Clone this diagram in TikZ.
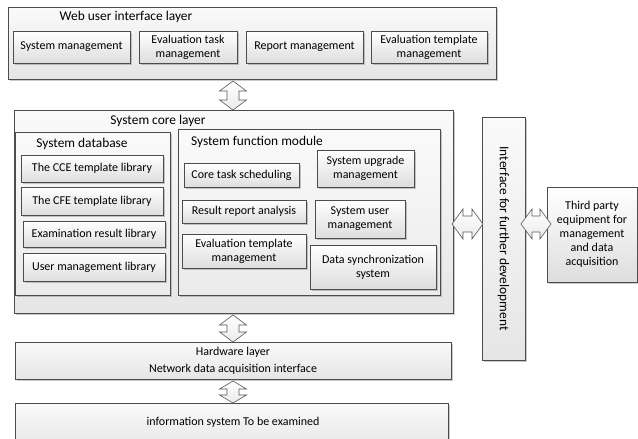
\documentclass[tikz,border=0pt]{standalone}
\usepackage{fontspec}
\setmainfont{Carlito}
\usetikzlibrary{shadows,calc}

\tikzset{
  edge/.style={draw=black!70, line width=0.6pt},
  shade/.style={drop shadow={shadow xshift=1.6pt, shadow yshift=-1.6pt, opacity=0.35, fill=black!60}},
  layer/.style={edge, shade, top color=black!2, bottom color=black!10, inner sep=0pt},
  group/.style={edge, shade, top color=black!2, bottom color=black!8, inner sep=0pt},
  item/.style={edge, shade, top color=white, bottom color=black!13, inner sep=0pt,
    align=center, font=\fontsize{12}{14}\selectfont},
  title/.style={inner sep=0pt, font=\fontsize{13.4}{15}\selectfont},
  blockarrow/.style={draw=black!65, line width=0.6pt, top color=white, bottom color=black!8},
}

% rectangle node given by its corners: \boxnode{style}{name}{x1}{y1}{x2}{y2}{text}
\newcommand{\boxnode}[7]{%
  \node[#1, minimum width={(#5-#3)*1pt}, minimum height={(#6-#4)*1pt}]
    (#2) at ({(#3+#5)/2},{(#4+#6)/2}) {#7};}

% vertical double block arrow between two points (top, bottom); #3 = head length
\newcommand{\vbiarrow}[3]{%
  \path[blockarrow] let \p1=(#1), \p2=(#2) in
    (\x1,\y1) -- (\x1+13.5pt,\y1-#3) -- (\x1+6pt,\y1-#3) -- (\x1+6pt,\y2+#3)
    -- (\x1+13.5pt,\y2+#3) -- (\x1,\y2) -- (\x1-13.5pt,\y2+#3) -- (\x1-6pt,\y2+#3)
    -- (\x1-6pt,\y1-#3) -- (\x1-13.5pt,\y1-#3) -- cycle;}
% horizontal double block arrow between two points (left, right)
\newcommand{\hbiarrow}[2]{%
  \path[blockarrow] let \p1=(#1), \p2=(#2) in
    (\x1,\y1) -- (\x1+11pt,\y1+15pt) -- (\x1+11pt,\y1+8pt) -- (\x2-11pt,\y1+8pt)
    -- (\x2-11pt,\y1+15pt) -- (\x2,\y1) -- (\x2-11pt,\y1-15pt) -- (\x2-11pt,\y1-8pt)
    -- (\x1+11pt,\y1-8pt) -- (\x1+11pt,\y1-15pt) -- cycle;}

\begin{document}
\begin{tikzpicture}[x=1pt, y=-1pt]
\useasboundingbox (0,0) rectangle (638,439);

% ---- web user interface layer
\boxnode{layer}{web}{8}{7}{496}{79}{}
\node[title] (webt) at (126,17) {Web user interface layer};
\boxnode{item}{wsys}{13}{31}{130}{63}{System management}
\boxnode{item}{wtask}{139}{31}{237}{63}{Evaluation task\\management}
\boxnode{item}{wrep}{246}{31}{363}{63}{Report management}
\boxnode{item}{wtpl}{371}{31}{487}{63}{Evaluation template\\management}

% ---- system core layer
\boxnode{layer}{core}{14}{110}{453}{313}{}
\node[title] (coret) at (158,121) {System core layer};

\boxnode{group}{db}{15}{132}{170}{295}{}
\node[title] (dbt) at (82,144) {System database};
\boxnode{item}{cce}{21}{155}{163}{182}{The CCE template library}
\boxnode{item}{cfe}{21}{187}{163}{215}{The CFE template library}
\boxnode{item}{exam}{23}{221}{165}{247}{Examination result library}
\boxnode{item}{ulib}{23}{253}{165}{281}{User management library}

\boxnode{group}{func}{178}{129}{440}{295}{}
\node[title] (funct) at (257,142) {System function module};
\boxnode{item}{sched}{184}{163}{299}{187}{Core task scheduling}
\boxnode{item}{upg}{317}{150}{414}{187}{System upgrade\\management}
\boxnode{item}{rra}{182}{200}{306}{223}{Result report analysis}
\boxnode{item}{sum}{315}{200}{405}{238}{System user\\management}
\boxnode{item}{etm}{182}{234}{306}{268}{Evaluation template\\management}
\boxnode{item}{dsync}{310}{245}{436}{289}{Data synchronization\\system}

% ---- interface and third party equipment
\boxnode{layer}{ifc}{482}{117}{525}{360}{}
\node[title, rotate=-90] (ifct) at (ifc.center) {Interface for further development};
\boxnode{item}{third}{547}{187}{637}{282}{Third party\\equipment for\\management\\and data\\acquisition}

% ---- hardware layer and system under examination
\boxnode{layer, align=center, font=\fontsize{12}{17}\selectfont}{hw}{15}{342}{451}{379}%
  {Hardware layer\\Network data acquisition interface}
\boxnode{layer}{info}{15}{403}{448}{450}{}
\node[inner sep=0pt, font=\fontsize{12}{14}\selectfont] (infot) at (233,422)
  {information system To be examined};

% ---- block arrows between layers
\coordinate (a1t) at (233,81);  \coordinate (a1b) at (233,110);
\coordinate (a2t) at (233,315); \coordinate (a2b) at (233,342);
\coordinate (a3t) at (233,381); \coordinate (a3b) at (233,403);
\coordinate (h1l) at (452,224); \coordinate (h1r) at (483,224);
\coordinate (h2l) at (521,224); \coordinate (h2r) at (551,224);
\vbiarrow{a1t}{a1b}{10pt}
\vbiarrow{a2t}{a2b}{10pt}
\vbiarrow{a3t}{a3b}{8pt}
\hbiarrow{h1l}{h1r}
\hbiarrow{h2l}{h2r}
\end{tikzpicture}
\end{document}
